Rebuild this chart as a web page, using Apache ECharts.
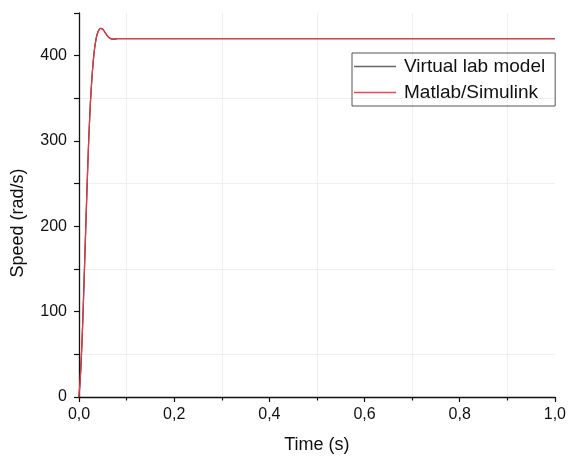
<!DOCTYPE html>
<html>
<head>
<meta charset="utf-8">
<script src="https://cdn.jsdelivr.net/npm/echarts@6/dist/echarts.min.js"></script>
<style>
html,body{margin:0;padding:0;background:#fff;}
#chart{width:569px;height:459px;}
</style>
</head>
<body>
<div id="chart"></div>
<script>
// Time (s)
const timeS = [0, 0.004, 0.008, 0.012, 0.016, 0.02, 0.024, 0.028, 0.032, 0.036, 0.04, 0.045, 0.05, 0.055, 0.06, 0.065, 0.07, 0.075, 0.08, 0.1, 0.2, 0.4, 0.6, 0.8, 1.0];
// Speed (rad/s)
const virtualLab = [0, 35, 90, 160, 230, 295, 345, 380, 405, 420, 428, 432, 431, 427, 423, 420.5, 419.5, 419.5, 420, 420, 420, 420, 420, 420, 420];
const simulink   = [0, 35, 90, 160, 230, 295, 345, 380, 405, 420, 428, 432, 431, 427, 423, 420.5, 419.5, 419.5, 420, 420, 420, 420, 420, 420, 420];
const seriesNames = ['Virtual lab model', 'Matlab/Simulink'];
const xTitle = 'Time (s)';
const yTitle = 'Speed (rad/s)';

const FONT = '"Liberation Sans", Arial, sans-serif';
const pair = (xs, ys) => xs.map((x, i) => [x, ys[i]]);

const chart = echarts.init(document.getElementById('chart'));
chart.setOption({
  animation: false,
  backgroundColor: '#fff',
  grid: {left: 79, right: 12, top: 13, bottom: 61, containLabel: false},
  legend: {
    orient: 'vertical',
    left: 352, top: 53,
    padding: [4, 10, 4, 2],
    itemGap: 7,
    icon: 'rect',
    itemWidth: 42, itemHeight: 1.3,
    borderColor: '#555', borderWidth: 1,
    textStyle: {fontFamily: FONT, fontSize: 19, color: '#111', padding: [0, 0, 0, 3]},
    data: [
      {name: seriesNames[0], itemStyle: {color: '#666'}},
      {name: seriesNames[1], itemStyle: {color: '#e8485a'}}
    ]
  },
  xAxis: {
    type: 'value', min: 0, max: 1, interval: 0.2,
    name: xTitle, nameLocation: 'middle', nameGap: 39,
    nameTextStyle: {fontFamily: FONT, fontSize: 18, color: '#111'},
    axisLine: {lineStyle: {color: '#111', width: 1.3}},
    axisTick: {show: true, length: 5, lineStyle: {color: '#111', width: 1.2}},
    minorTick: {show: true, splitNumber: 2, length: 3.5, lineStyle: {color: '#111', width: 1.2}},
    splitLine: {show: false},
    minorSplitLine: {show: true, lineStyle: {color: '#efefef', width: 1}},
    axisLabel: {fontFamily: FONT, fontSize: 16, color: '#111', margin: 10,
      formatter: v => v.toFixed(1).replace('.', ',')}
  },
  yAxis: {
    type: 'value', min: 0, max: 450, interval: 50,
    axisLine: {show: true, lineStyle: {color: '#111', width: 1.3}},
    axisTick: {show: true, length: 5, lineStyle: {color: '#111', width: 1.2}},
    splitLine: {show: true, showMaxLine: false, lineStyle: {color: ['rgba(0,0,0,0)', '#efefef'], width: 1}},
    axisLabel: {fontFamily: FONT, fontSize: 16, color: '#111', margin: 12,
      formatter: v => (v % 100 === 0 ? String(v) : '')}
  },
  graphic: [{
    type: 'text', x: 18, y: 223, rotation: Math.PI / 2,
    style: {text: yTitle, font: '18px ' + FONT, fill: '#111', align: 'center', verticalAlign: 'middle'}
  }],
  series: [
    {name: seriesNames[0], type: 'line', data: pair(timeS, virtualLab), symbol: 'none', smooth: 0.3,
      lineStyle: {color: '#222', width: 1.2}, itemStyle: {color: '#666'}},
    {name: seriesNames[1], type: 'line', data: pair(timeS, simulink), symbol: 'none', smooth: 0.3,
      lineStyle: {color: '#e23a48', width: 1.3}, itemStyle: {color: '#e8485a'}}
  ]
});
</script>
</body>
</html>
